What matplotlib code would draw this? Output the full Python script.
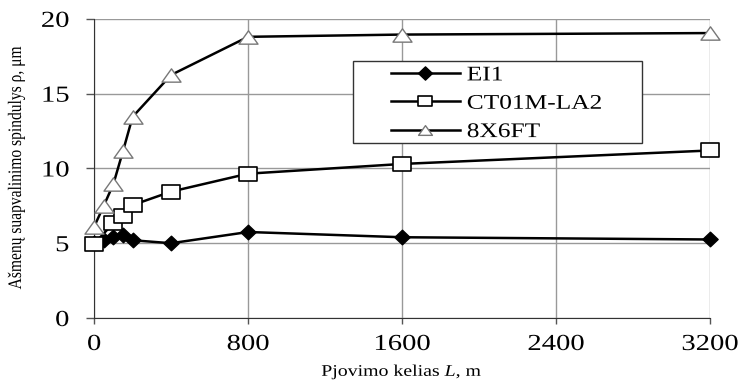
import matplotlib
matplotlib.use('Agg')
import matplotlib.pyplot as plt
from matplotlib.patches import Rectangle
from matplotlib.path import Path
from matplotlib.patheffects import AbstractPathEffect
from matplotlib.transforms import Affine2D

# cutting path L, m
path_len = [0, 50, 100, 150, 200, 400, 800, 1600, 3200]
path_len_sq = [0, 100, 150, 200, 400, 800, 1600, 3200]

# edge rounding radius, um
ei1 = [5.0, 5.2, 5.4, 5.55, 5.2, 5.0, 5.75, 5.4, 5.25]
ct01m = [4.95, 6.35, 6.85, 7.55, 8.45, 9.65, 10.3, 11.2]
x6ft = [6.1, 7.5, 8.95, 11.15, 13.45, 16.25, 18.8, 18.95, 19.05]

xticks = [0, 800, 1600, 2400, 3200]
yticks = [0, 5, 10, 15, 20]


class Stretch(AbstractPathEffect):
    # the source picture is widened, so text glyphs are stretched a bit
    def __init__(self, sx=1.0, sy=1.0, anchor='left'):
        super().__init__()
        self.sx = sx
        self.sy = sy
        self.anchor = anchor

    def draw_path(self, renderer, gc, tpath, affine, rgbFace=None):
        ext = tpath.get_extents()
        if self.anchor == 'center':
            cx = (ext.x0 + ext.x1) / 2.0
        elif self.anchor == 'right':
            cx = ext.x1
        else:
            cx = 0.0
        cy = (ext.y0 + ext.y1) / 2.0
        t = Affine2D().translate(-cx, -cy).scale(self.sx, self.sy).translate(cx, cy)
        renderer.draw_path(gc, tpath, t + affine, rgbFace)


# wide markers, as in the original
sq_mark = Path([(-1.4, -1), (1.4, -1), (1.4, 1), (-1.4, 1), (-1.4, -1)], closed=True)
tri_mark = Path([(0, 1), (-1.43, -1), (1.43, -1), (0, 1)], closed=True)
dia_mark = Path([(0, 1), (1.05, 0), (0, -1), (-1.05, 0), (0, 1)], closed=True)

plt.rcParams['font.family'] = ['Liberation Serif', 'DejaVu Serif']
plt.rcParams['mathtext.fontset'] = 'custom'
plt.rcParams['mathtext.rm'] = 'Liberation Serif'
plt.rcParams['mathtext.it'] = 'Liberation Serif:italic'

fig = plt.figure(figsize=(7.41, 3.85), dpi=100)
ax = fig.add_axes([0.127, 0.174, 0.831, 0.777])

ax.plot(path_len, ei1, color='black', lw=1.8, marker=dia_mark, ms=11,
        mfc='black', mec='black', label='EI1', zorder=3, clip_on=False)
ax.plot(path_len_sq, ct01m, color='black', lw=1.8, marker=sq_mark, ms=13.5,
        mfc='white', mec='black', mew=1.2, label='CT01M-LA2', zorder=4,
        clip_on=False)
ax.plot(path_len, x6ft, color='black', lw=1.8, marker=tri_mark, ms=13.7,
        mfc='white', mec='#777777', mew=1.0, label='8X6FT', zorder=5,
        clip_on=False)

ax.set_xlim(0, 3200)
ax.set_ylim(0, 20)
ax.set_xticks(xticks)
ax.set_yticks(yticks)
ax.tick_params(labelsize=16.5, width=1, direction='out', color='#555555')
ax.tick_params(axis='x', length=4.5, pad=7)
ax.tick_params(axis='y', length=6, pad=12)
ax.grid(True, color='#999999', lw=1)
ax.set_axisbelow(True)
for s in ['top', 'right']:
    ax.spines[s].set_visible(False)
ax.spines['left'].set_color('#333333')
ax.spines['bottom'].set_color('#333333')

for lab in ax.get_xticklabels():
    lab.set_path_effects([Stretch(1.25, 1.0, 'center')])
for lab in ax.get_yticklabels():
    lab.set_path_effects([Stretch(1.25, 1.0, 'right')])

xl = ax.set_xlabel('Pjovimo kelias $L$, m', fontsize=11.7, labelpad=5)
xl.set_path_effects([Stretch(1.22, 1.0, 'center')])
yl = ax.set_ylabel('Ašmenų suapvalinimo spindulys ρ, μm', fontsize=11.2, labelpad=16)
yl.set_path_effects([Stretch(1.0, 1.22, 'center')])

# legend box drawn separately (wide left margin like the original)
box = Rectangle((0.4205, 0.585), 0.469, 0.274, transform=ax.transAxes,
                facecolor='white', edgecolor='#333333', lw=1, zorder=6)
ax.add_patch(box)
leg = ax.legend(loc='upper left', bbox_to_anchor=(0.482, 0.843), fontsize=15,
                frameon=False, handlelength=3.3, borderpad=0,
                labelspacing=0.42, handletextpad=0.34, borderaxespad=0)
leg.set_zorder(7)
for h in leg.legend_handles:
    h.set_markersize(10)
for t in leg.get_texts():
    t.set_path_effects([Stretch(1.22, 1.0, 'left')])

fig.savefig('out.png', dpi=100)
